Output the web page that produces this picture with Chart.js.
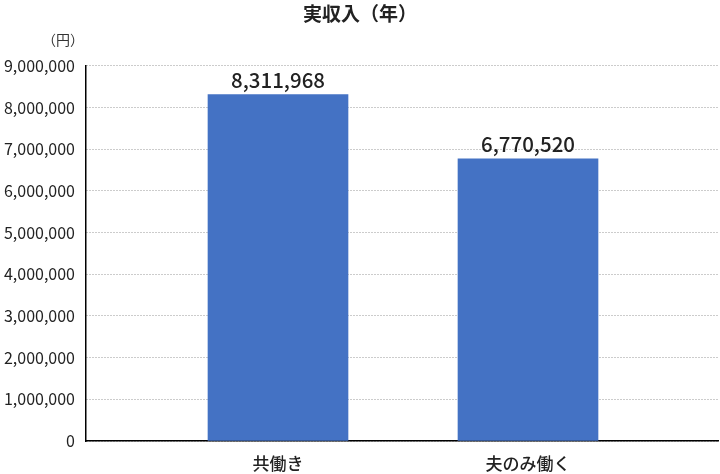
<!DOCTYPE html>
<html><head><meta charset="utf-8">
<script src="https://cdn.jsdelivr.net/npm/chart.js@4/dist/chart.umd.min.js"></script>
<style>html,body{margin:0;padding:0;background:#fff}#wrap{width:720px;height:474px}</style>
</head><body><div id="wrap"><canvas id="c"></canvas></div>
<script>
const categories = ['共働き', '夫のみ働く'];
const values = [8311968, 6770520];
const yTicks = [0, 1000000, 2000000, 3000000, 4000000, 5000000, 6000000, 7000000, 8000000, 9000000];
const titleText = '実収入（年）';
const unitText = '（円）';

const FONT = '"Noto Sans CJK JP", "Noto Sans", sans-serif';
const fmt = v => v.toLocaleString('en-US');

const labelPlugin = {
  id: 'labels',
  afterDatasetsDraw(chart) {
    const ctx = chart.ctx;
    const meta = chart.getDatasetMeta(0);
    ctx.save();
    ctx.font = '500 20.5px ' + FONT;
    ctx.fillStyle = '#222';
    ctx.textAlign = 'center';
    ctx.textBaseline = 'bottom';
    meta.data.forEach((bar, i) => {
      ctx.fillText(fmt(values[i]), bar.x, bar.y - 4);
    });
    const ca = chart.chartArea;
    ctx.font = '14px ' + FONT;
    ctx.fillStyle = '#333';
    ctx.textAlign = 'right';
    ctx.textBaseline = 'middle';
    ctx.fillText(unitText, ca.left - 2, ca.top - 26);
    ctx.restore();
  }
};

new Chart(document.getElementById('c'), {
  type: 'bar',
  data: {
    datasets: [{
      data: categories.map((c, i) => ({x: i + 1, y: values[i]})),
      backgroundColor: '#4472C4',
      borderWidth: 0,
      barThickness: 140
    }]
  },
  options: {
    responsive: true,
    maintainAspectRatio: false,
    animation: false,
    devicePixelRatio: 1,
    layout: {padding: {left: 2, right: 2, top: 0, bottom: 0}},
    plugins: {
      legend: {display: false},
      tooltip: {enabled: false},
      title: {
        display: true, text: titleText,
        font: {family: FONT, size: 19, weight: 'bold'},
        color: '#222',
        padding: {top: 2, bottom: 41}
      }
    },
    scales: {
      x: {
        type: 'linear',
        offset: false,
        min: 0.232, max: 2.76,
        afterBuildTicks: s => { s.ticks = categories.map((c, i) => ({value: i + 1})); },
        afterFit: s => { s.height = 33; },
        ticks: {
          callback: v => categories[Math.round(v) - 1] || '',
          font: {family: FONT, size: 17, weight: '500'},
          color: '#222',
          padding: 12
        },
        grid: {display: false, drawTicks: false},
        border: {display: true, color: '#000', width: 1.5}
      },
      y: {
        min: 0, max: 9000000,
        afterBuildTicks: s => { s.ticks = yTicks.map(v => ({value: v})); },
        afterFit: s => { s.width = 84; },
        ticks: {
          callback: v => fmt(v),
          font: {family: FONT, size: 16},
          color: '#222',
          padding: 11
        },
        grid: {color: '#999', lineWidth: 1, drawTicks: false},
        border: {display: true, color: '#000', width: 1.5, dash: [1, 2]}
      }
    }
  },
  plugins: [labelPlugin]
});
</script></body></html>
